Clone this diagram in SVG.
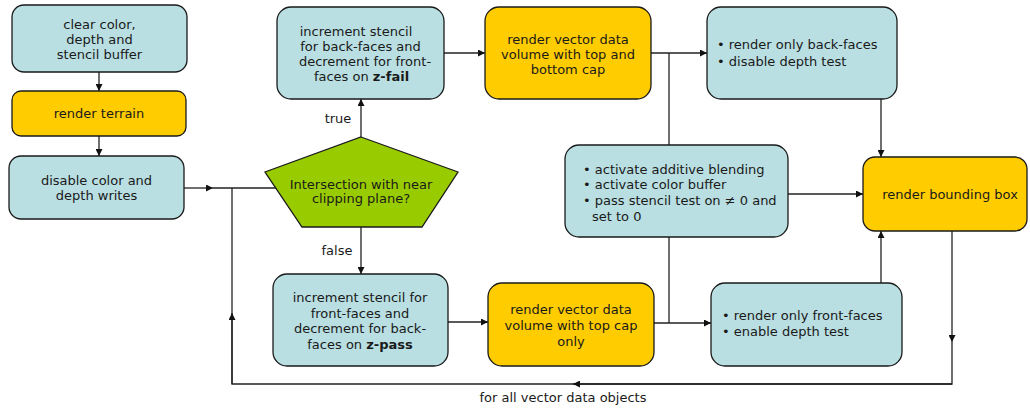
<svg xmlns="http://www.w3.org/2000/svg" width="1030" height="409" viewBox="0 0 1030 409">
<defs>
<style>
.b{fill:#b9dfe2;stroke:#1a1a1a;stroke-width:1.3}
.y{fill:#ffcc00;stroke:#1a1a1a;stroke-width:1.3}
.g{fill:#99cc00;stroke:#1a1a1a;stroke-width:1.3}
text{font-family:"DejaVu Sans",Verdana,sans-serif;font-size:13px;fill:#1a1a1a}
.c{text-anchor:middle}
.l{fill:none;stroke:#222;stroke-width:1.3}
.a{fill:none;stroke:#222;stroke-width:1.3;marker-end:url(#ah)}
</style>
<marker id="ah" viewBox="0 0 10 10" refX="10" refY="5" markerWidth="9" markerHeight="7" markerUnits="userSpaceOnUse" orient="auto">
<path d="M0,0 L10,5 L0,10 z" fill="#111"/>
</marker>
</defs>
<g id="connectors">
<path class="a" d="M99,72 V91"/>
<path class="a" d="M99,136 V156"/>
<path class="a" d="M184,188 H213"/>
<path class="l" d="M213,188 H277"/>
<path class="a" d="M952,231 V342"/>
<path class="l" d="M952,342 V384 H573"/>
<path class="a" d="M952,384 H573"/>
<path class="l" d="M573,384 H232 V313"/>
<path class="a" d="M232,384 V313"/>
<path class="l" d="M232,313 V188"/>
<path class="a" d="M361,137 V99"/>
<path class="a" d="M361,227 V274"/>
<path class="a" d="M444,53 H485"/>
<path class="a" d="M651,53 H707"/>
<path class="a" d="M881,99 V157"/>
<path class="l" d="M669,53 V145"/>
<path class="l" d="M669,237 V323"/>
<path class="a" d="M788,194 H863"/>
<path class="a" d="M448,322 H488"/>
<path class="a" d="M654,323 H711"/>
<path class="a" d="M881,283 V231"/>
<text x="338" y="123" class="c">true</text>
<text x="337" y="255" class="c">false</text>
<text x="563" y="402" class="c">for all vector data objects</text>
</g>
<g id="clear">
<rect class="b" x="12" y="5" width="175" height="67" rx="12"/>
<text class="c" x="99.5" y="28.5">clear color,</text>
<text class="c" x="99.5" y="43.5">depth and</text>
<text class="c" x="99.5" y="58.5">stencil buffer</text>
</g>
<g id="terrain">
<rect class="y" x="12" y="91" width="174" height="45" rx="9"/>
<text class="c" x="99" y="117.5">render terrain</text>
</g>
<g id="disable">
<rect class="b" x="9" y="156" width="175" height="63" rx="12"/>
<text class="c" x="96.5" y="185">disable color and</text>
<text class="c" x="96.5" y="200">depth writes</text>
</g>
<g id="decision">
<polygon class="g" points="361,137 458,172 422,227 302,227 265,172"/>
<text class="c" x="361" y="188.5">Intersection with near</text>
<text class="c" x="361" y="203">clipping plane?</text>
</g>
<g id="zfail">
<rect class="b" x="277" y="7" width="167" height="92" rx="14"/>
<text class="c" x="356" y="36">increment stencil</text>
<text class="c" x="360.5" y="51">for back-faces and</text>
<text class="c" x="365" y="66">decrement for front-</text>
<text class="c" x="361.5" y="81">faces on <tspan font-weight="bold">z-fail</tspan></text>
</g>
<g id="volTopBottom">
<rect class="y" x="485" y="7" width="166" height="92" rx="14"/>
<text class="c" x="568" y="43.5">render vector data</text>
<text class="c" x="568" y="58.5">volume with top and</text>
<text class="c" x="568" y="74">bottom cap</text>
</g>
<g id="backfaces">
<rect class="b" x="707" y="7" width="190" height="92" rx="14"/>
<text x="717" y="49">• render only back-faces</text>
<text x="717" y="65.5">• disable depth test</text>
</g>
<g id="blend">
<rect class="b" x="565" y="145" width="223" height="92" rx="14"/>
<text x="583" y="173.5">• activate additive blending</text>
<text x="583" y="189">• activate color buffer</text>
<text x="583" y="205">• pass stencil test on ≠ 0 and</text>
<text x="592" y="220.5">set to 0</text>
</g>
<g id="bbox">
<rect class="y" x="863" y="157" width="164" height="74" rx="12"/>
<text class="c" x="950" y="198.5">render bounding box</text>
</g>
<g id="zpass">
<rect class="b" x="273" y="274" width="175" height="92" rx="14"/>
<text class="c" x="360" y="301.5">increment stencil for</text>
<text class="c" x="360" y="317.5">front-faces and</text>
<text class="c" x="360" y="333">decrement for back-</text>
<text class="c" x="360" y="348.5">faces on <tspan font-weight="bold">z-pass</tspan></text>
</g>
<g id="volTop">
<rect class="y" x="488" y="283" width="166" height="83" rx="14"/>
<text class="c" x="571" y="313.5">render vector data</text>
<text class="c" x="571" y="330">volume with top cap</text>
<text class="c" x="571" y="345.5">only</text>
</g>
<g id="frontfaces">
<rect class="b" x="711" y="283" width="191" height="83" rx="14"/>
<text x="722" y="319.5">• render only front-faces</text>
<text x="722" y="335.5">• enable depth test</text>
</g>
</svg>
